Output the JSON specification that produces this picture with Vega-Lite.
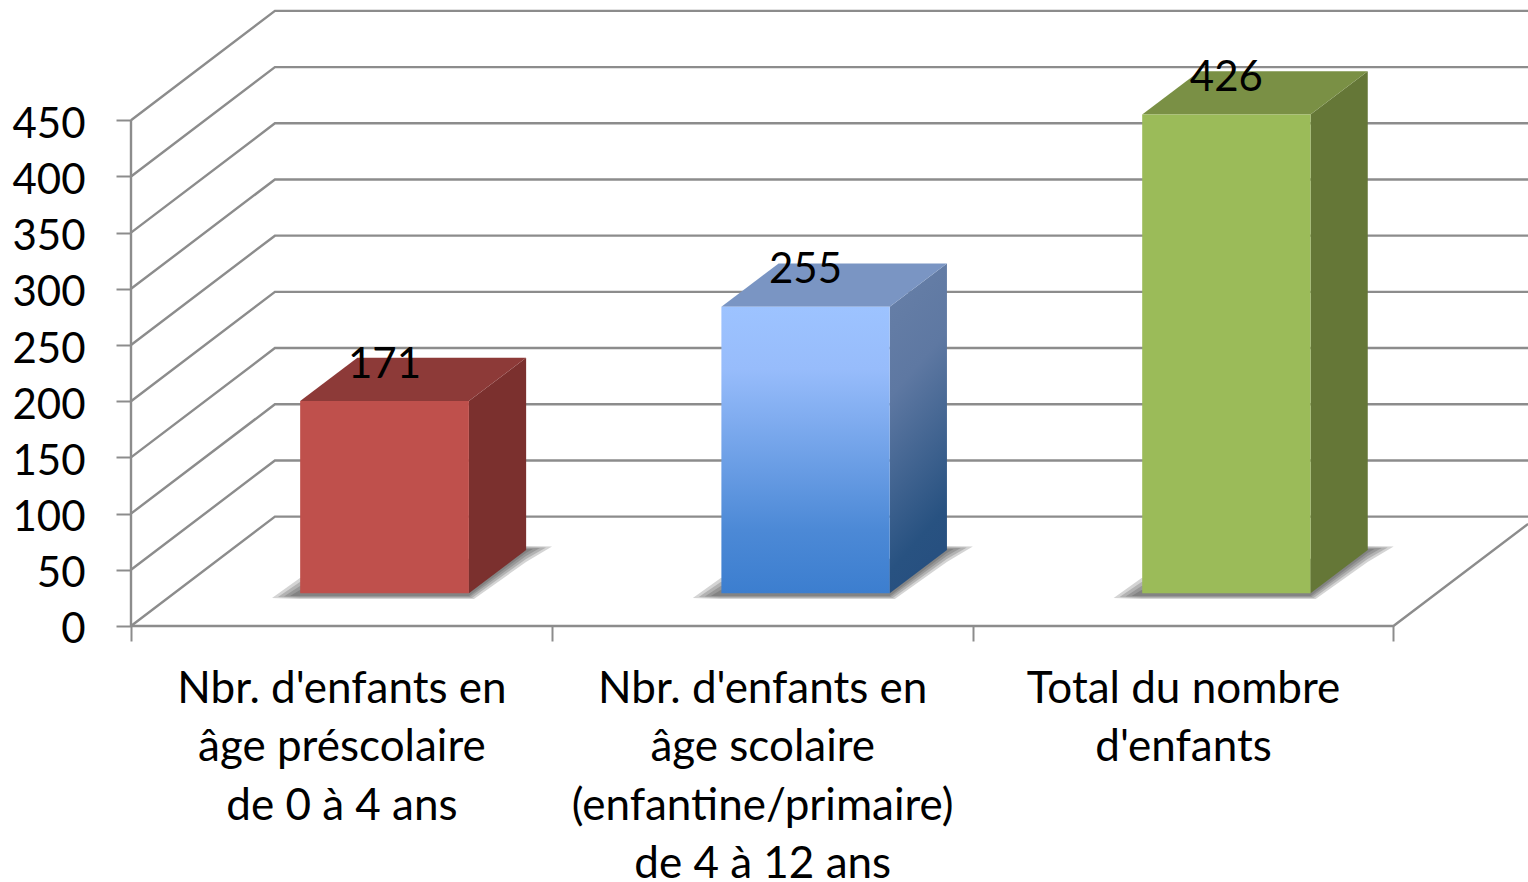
{
"$schema":"https://vega.github.io/schema/vega-lite/v6.json",
"width":1528,"height":882,"padding":0,"autosize":{"type":"none"},
"background":"white",
"config":{"view":{"stroke":null},"font":"Lato"},
"resolve":{"axis":{"x":"independent","y":"independent"}},
"datasets":{
"bars":[
{"category":"Nbr. d'enfants en âge préscolaire de 0 à 4 ans","value":171,"x0":0.402,"x1":0.803,"xc":0.6025},
{"category":"Nbr. d'enfants en âge scolaire (enfantine/primaire) de 4 à 12 ans","value":255,"x0":1.403,"x1":1.803,"xc":1.603},
{"category":"Total du nombre d'enfants","value":426,"x0":2.403,"x1":2.803,"xc":2.603}],
"grid":[
{"s":"0","x":0,"y":0},{"s":"0","x":0.342,"y":97.3},{"s":"0","x":3.32,"y":97.3},
{"s":"50","x":0,"y":50},{"s":"50","x":0.342,"y":147.3},{"s":"50","x":3.32,"y":147.3},
{"s":"100","x":0,"y":100},{"s":"100","x":0.342,"y":197.3},{"s":"100","x":3.32,"y":197.3},
{"s":"150","x":0,"y":150},{"s":"150","x":0.342,"y":247.3},{"s":"150","x":3.32,"y":247.3},
{"s":"200","x":0,"y":200},{"s":"200","x":0.342,"y":297.3},{"s":"200","x":3.32,"y":297.3},
{"s":"250","x":0,"y":250},{"s":"250","x":0.342,"y":347.3},{"s":"250","x":3.32,"y":347.3},
{"s":"300","x":0,"y":300},{"s":"300","x":0.342,"y":397.3},{"s":"300","x":3.32,"y":397.3},
{"s":"350","x":0,"y":350},{"s":"350","x":0.342,"y":447.3},{"s":"350","x":3.32,"y":447.3},
{"s":"400","x":0,"y":400},{"s":"400","x":0.342,"y":497.3},{"s":"400","x":3.32,"y":497.3},
{"s":"450","x":0,"y":450},{"s":"450","x":0.342,"y":547.3},{"s":"450","x":3.32,"y":547.3},
{"s":"floor","x":0,"y":0},{"s":"floor","x":3,"y":0},{"s":"floor","x":3.32,"y":90.8},
{"s":"wall","x":0,"y":0},{"s":"wall","x":0,"y":450}],
"shadow":[
{"b":"a","l":1,"x":0.3351,"y":24.9,"y2":24.9},{"b":"a","l":1,"x":0.4016,"y":42.7,"y2":24},{"b":"a","l":1,"x":0.8151,"y":60,"y2":24},{"b":"a","l":1,"x":0.9387,"y":71.2,"y2":56.9},{"b":"a","l":1,"x":1.0005,"y":70.7,"y2":70.7},
{"b":"a","l":2,"x":0.3493,"y":25.8,"y2":25.8},{"b":"a","l":2,"x":0.4016,"y":39.2,"y2":24.9},{"b":"a","l":2,"x":0.8104,"y":60,"y2":24.9},{"b":"a","l":2,"x":0.9387,"y":70.3,"y2":59.6},{"b":"a","l":2,"x":0.9862,"y":69.9,"y2":69.9},
{"b":"a","l":3,"x":0.3636,"y":26.2,"y2":26.2},{"b":"a","l":3,"x":0.4016,"y":35.6,"y2":25.8},{"b":"a","l":3,"x":0.8056,"y":60,"y2":25.8},{"b":"a","l":3,"x":0.9387,"y":69.4,"y2":62.3},{"b":"a","l":3,"x":0.972,"y":69.4,"y2":69.4},
{"b":"a","l":4,"x":0.3779,"y":26.7,"y2":26.7},{"b":"a","l":4,"x":0.4016,"y":32,"y2":26.7},{"b":"a","l":4,"x":0.8032,"y":60,"y2":26.7},{"b":"a","l":4,"x":0.9387,"y":68.5,"y2":65},{"b":"a","l":4,"x":0.9553,"y":68.5,"y2":68.5},
{"b":"b","l":1,"x":1.3351,"y":24.9,"y2":24.9},{"b":"b","l":1,"x":1.4016,"y":42.7,"y2":24},{"b":"b","l":1,"x":1.8151,"y":60,"y2":24},{"b":"b","l":1,"x":1.9387,"y":71.2,"y2":56.9},{"b":"b","l":1,"x":2.0005,"y":70.7,"y2":70.7},
{"b":"b","l":2,"x":1.3493,"y":25.8,"y2":25.8},{"b":"b","l":2,"x":1.4016,"y":39.2,"y2":24.9},{"b":"b","l":2,"x":1.8104,"y":60,"y2":24.9},{"b":"b","l":2,"x":1.9387,"y":70.3,"y2":59.6},{"b":"b","l":2,"x":1.9862,"y":69.9,"y2":69.9},
{"b":"b","l":3,"x":1.3636,"y":26.2,"y2":26.2},{"b":"b","l":3,"x":1.4016,"y":35.6,"y2":25.8},{"b":"b","l":3,"x":1.8056,"y":60,"y2":25.8},{"b":"b","l":3,"x":1.9387,"y":69.4,"y2":62.3},{"b":"b","l":3,"x":1.972,"y":69.4,"y2":69.4},
{"b":"b","l":4,"x":1.3779,"y":26.7,"y2":26.7},{"b":"b","l":4,"x":1.4016,"y":32,"y2":26.7},{"b":"b","l":4,"x":1.8032,"y":60,"y2":26.7},{"b":"b","l":4,"x":1.9387,"y":68.5,"y2":65},{"b":"b","l":4,"x":1.9553,"y":68.5,"y2":68.5},
{"b":"c","l":1,"x":2.3351,"y":24.9,"y2":24.9},{"b":"c","l":1,"x":2.4016,"y":42.7,"y2":24},{"b":"c","l":1,"x":2.8151,"y":60,"y2":24},{"b":"c","l":1,"x":2.9387,"y":71.2,"y2":56.9},{"b":"c","l":1,"x":3.0005,"y":70.7,"y2":70.7},
{"b":"c","l":2,"x":2.3493,"y":25.8,"y2":25.8},{"b":"c","l":2,"x":2.4016,"y":39.2,"y2":24.9},{"b":"c","l":2,"x":2.8104,"y":60,"y2":24.9},{"b":"c","l":2,"x":2.9387,"y":70.3,"y2":59.6},{"b":"c","l":2,"x":2.9862,"y":69.9,"y2":69.9},
{"b":"c","l":3,"x":2.3636,"y":26.2,"y2":26.2},{"b":"c","l":3,"x":2.4016,"y":35.6,"y2":25.8},{"b":"c","l":3,"x":2.8056,"y":60,"y2":25.8},{"b":"c","l":3,"x":2.9387,"y":69.4,"y2":62.3},{"b":"c","l":3,"x":2.972,"y":69.4,"y2":69.4},
{"b":"c","l":4,"x":2.3779,"y":26.7,"y2":26.7},{"b":"c","l":4,"x":2.4016,"y":32,"y2":26.7},{"b":"c","l":4,"x":2.8032,"y":60,"y2":26.7},{"b":"c","l":4,"x":2.9387,"y":68.5,"y2":65},{"b":"c","l":4,"x":2.9553,"y":68.5,"y2":68.5}],
"faces":[
{"b":"a","f":"side","x":0.803,"y":200.1,"y2":29.1},{"b":"a","f":"side","x":0.939,"y":238.6,"y2":67.6},
{"b":"b","f":"side","x":1.803,"y":284.1,"y2":29.1},{"b":"b","f":"side","x":1.939,"y":322.6,"y2":67.6},
{"b":"c","f":"side","x":2.803,"y":455.1,"y2":29.1},{"b":"c","f":"side","x":2.939,"y":493.6,"y2":67.6},
{"b":"a","f":"top","x":0.402,"y":200.1,"y2":200.1},{"b":"a","f":"top","x":0.538,"y":238.6,"y2":200.1},{"b":"a","f":"top","x":0.803,"y":238.6,"y2":200.1},{"b":"a","f":"top","x":0.939,"y":238.6,"y2":238.6},
{"b":"b","f":"top","x":1.403,"y":284.1,"y2":284.1},{"b":"b","f":"top","x":1.539,"y":322.6,"y2":284.1},{"b":"b","f":"top","x":1.803,"y":322.6,"y2":284.1},{"b":"b","f":"top","x":1.939,"y":322.6,"y2":322.6},
{"b":"c","f":"top","x":2.403,"y":455.1,"y2":455.1},{"b":"c","f":"top","x":2.539,"y":493.6,"y2":455.1},{"b":"c","f":"top","x":2.803,"y":493.6,"y2":455.1},{"b":"c","f":"top","x":2.939,"y":493.6,"y2":493.6}]
},
"encoding":{
"x":{"field":"x","type":"quantitative","title":null,"scale":{"domain":[-0.3113,3.3198],"nice":false,"zero":false},"axis":null},
"y":{"field":"y","type":"quantitative","title":null,"scale":{"domain":[-227.8,557],"nice":false,"zero":false},"axis":null}
},
"layer":[
{"data":{"name":"grid"},"mark":{"type":"line","color":"#8c8c8c","strokeWidth":2.4,"clip":true},"encoding":{"detail":{"field":"s"},
"x":{"field":"x","type":"quantitative","title":null,"scale":{"domain":[-0.3113,3.3198],"nice":false,"zero":false},
"axis":{"orient":"bottom","offset":-256,"values":[0,0.5,1,1.5,2,2.5,3],"domain":false,"grid":false,"tickSize":15,"tickWidth":2,"tickColor":{"condition":{"test":"datum.value % 1 == 0","value":"#8c8c8c"},"value":"transparent"},"labelFont":"Lato","labelFontSize":44,"labelColor":"#000000","labelPadding":26,"labelLimit":2000,"labelBaseline":"top","labelLineHeight":58.5,"labelOverlap":false,"labelBound":false,"labelFlush":false,"labelExpr":"datum.value==0.5?[\"Nbr. d'enfants en\",'âge préscolaire','de 0 à 4 ans']:datum.value==1.5?[\"Nbr. d'enfants en\",'âge scolaire','(enfantine/primaire)','de 4 à 12 ans']:datum.value==2.5?['Total du nombre',\"d'enfants\"]:''"}},
"y":{"field":"y","type":"quantitative","title":null,"scale":{"domain":[-227.8,557],"nice":false,"zero":false},
"axis":{"orient":"left","offset":-131,"values":[0,50,100,150,200,250,300,350,400,450],"domain":false,"grid":false,"tickSize":15,"tickWidth":2,"tickColor":"#8c8c8c","labelFont":"Lato","labelFontSize":42,"labelColor":"#000000","labelPadding":31,"labelOffset":4,"labelOverlap":false,"labelBound":false}}}},
{"data":{"name":"shadow"},"mark":{"type":"area","color":"#3a3a3a","opacity":0.22},"encoding":{"y2":{"field":"y2"},"detail":[{"field":"b"},{"field":"l"}]}},
{"data":{"name":"faces"},"transform":[{"filter":"datum.b=='a'&&datum.f=='side'"}],"mark":{"type":"area","color":"#7b302e"},"encoding":{"y2":{"field":"y2"}}},
{"data":{"name":"faces"},"transform":[{"filter":"datum.b=='a'&&datum.f=='top'"}],"mark":{"type":"area","color":"#8d3a38"},"encoding":{"y2":{"field":"y2"}}},
{"data":{"name":"faces"},"transform":[{"filter":"datum.b=='b'&&datum.f=='side'"}],"mark":{"type":"area","color":{"gradient":"linear","x1":0,"y1":0,"x2":0.2,"y2":1,"stops":[{"offset":0,"color":"#6880a8"},{"offset":0.39,"color":"#5e78a2"},{"offset":0.9,"color":"#285281"},{"offset":1,"color":"#275080"}]}},"encoding":{"y2":{"field":"y2"}}},
{"data":{"name":"faces"},"transform":[{"filter":"datum.b=='b'&&datum.f=='top'"}],"mark":{"type":"area","color":"#7a95c3"},"encoding":{"y2":{"field":"y2"}}},
{"data":{"name":"faces"},"transform":[{"filter":"datum.b=='c'&&datum.f=='side'"}],"mark":{"type":"area","color":"#657737"},"encoding":{"y2":{"field":"y2"}}},
{"data":{"name":"faces"},"transform":[{"filter":"datum.b=='c'&&datum.f=='top'"}],"mark":{"type":"area","color":"#7a9045"},"encoding":{"y2":{"field":"y2"}}},
{"data":{"name":"bars"},"transform":[{"filter":"datum.value==171"}],"mark":{"type":"rect","color":"#bf504c","yOffset":-32.7,"y2Offset":-32.7},"encoding":{"x":{"field":"x0","type":"quantitative","axis":null},"x2":{"field":"x1"},"y":{"field":"value","type":"quantitative","axis":null},"y2":{"datum":0}}},
{"data":{"name":"bars"},"transform":[{"filter":"datum.value==255"}],"mark":{"type":"rect","yOffset":-32.7,"y2Offset":-32.7,"color":{"gradient":"linear","x1":0,"y1":0,"x2":0,"y2":1,"stops":[{"offset":0,"color":"#9dc3ff"},{"offset":0.22,"color":"#97bcfb"},{"offset":0.78,"color":"#4c89d6"},{"offset":1,"color":"#3c7ecf"}]}},"encoding":{"x":{"field":"x0","type":"quantitative","axis":null},"x2":{"field":"x1"},"y":{"field":"value","type":"quantitative","axis":null},"y2":{"datum":0}}},
{"data":{"name":"bars"},"transform":[{"filter":"datum.value==426"}],"mark":{"type":"rect","color":"#9bbb59","yOffset":-32.7,"y2Offset":-32.7},"encoding":{"x":{"field":"x0","type":"quantitative","axis":null},"x2":{"field":"x1"},"y":{"field":"value","type":"quantitative","axis":null},"y2":{"datum":0}}},
{"data":{"name":"bars"},"mark":{"type":"text","font":"Lato","fontSize":42,"color":"#000000","baseline":"middle","align":"center","dy":-69},"encoding":{"x":{"field":"xc","type":"quantitative","axis":null},"y":{"field":"value","type":"quantitative","axis":null},"text":{"field":"value","type":"quantitative"}}}
]
}
